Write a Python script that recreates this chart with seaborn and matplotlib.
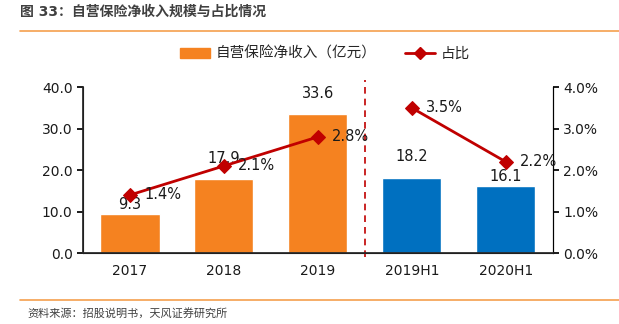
import matplotlib
matplotlib.use("Agg")
import matplotlib.pyplot as plt
import seaborn as sns
import pandas as pd
from matplotlib.lines import Line2D
from matplotlib.patches import Patch

sns.set_theme(style="white")
plt.rcParams['font.family'] = ['DejaVu Sans', 'Noto Sans CJK SC']

categories = ["2017", "2018", "2019", "2019H1", "2020H1"]
income = [9.3, 17.9, 33.6, 18.2, 16.1]
ratio = [1.4, 2.1, 2.8, 3.5, 2.2]
bar_colors = ["#F58220", "#F58220", "#F58220", "#0070C0", "#0070C0"]
line_color = "#C00000"
label_offsets = [0.5, 3.0, 3.0, 3.2, 0.6]

df = pd.DataFrame({"cat": categories, "income": income, "ratio": ratio})

fig = plt.figure(figsize=(6.19, 3.24), dpi=100)
ax = fig.add_axes([0.134, 0.219, 0.759, 0.512])
sns.barplot(data=df, x="cat", y="income", hue="cat", palette=bar_colors,
            legend=False, width=0.63, ax=ax, saturation=1)
ax.set_ylim(0, 40)
ax.set_yticks([0, 10, 20, 30, 40])
ax.set_yticklabels([f"{v:.1f}" for v in [0, 10, 20, 30, 40]])
ax.set_xlabel("")
ax.set_ylabel("")
ax.set_xlim(-0.5, 4.5)
ax.set_xticks(range(5))
ax.set_xticklabels(categories)
ax.tick_params(axis="x", length=0, labelsize=10, pad=8, labelcolor="#1a1a1a")
ax.set_xticks([0.5, 1.5, 2.5, 3.5], minor=True)
ax.tick_params(axis="x", which="minor", length=4, direction="out", color="black")
ax.tick_params(axis="y", length=4, direction="out", labelsize=10, color="black",
               left=True, labelcolor="#1a1a1a")
ax.spines["top"].set_visible(False)
for s in ["left", "bottom", "right"]:
    ax.spines[s].set_color("black")
    ax.spines[s].set_linewidth(0.8)

for i, v in enumerate(income):
    ax.text(i, v + label_offsets[i], f"{v:.1f}", ha="center", va="bottom",
            fontsize=10.5, color="#1a1a1a")

ax2 = ax.twinx()
ax2.set_ylim(0, 4)
sns.lineplot(x=[0, 1, 2], y=ratio[:3], ax=ax2, color=line_color, marker="D",
             markersize=7, linewidth=2, markeredgecolor=line_color)
sns.lineplot(x=[3, 4], y=ratio[3:], ax=ax2, color=line_color, marker="D",
             markersize=7, linewidth=2, markeredgecolor=line_color)
ax2.set_xlim(-0.5, 4.5)
ax2.set_yticks([0, 1, 2, 3, 4])
ax2.set_yticklabels([f"{v:.1f}%" for v in [0, 1, 2, 3, 4]])
ax2.tick_params(axis="y", length=4, direction="out", labelsize=10, color="black",
                right=True, labelcolor="#1a1a1a")
ax2.spines["top"].set_visible(False)
ax2.spines["right"].set_color("black")
ax2.spines["right"].set_linewidth(0.8)
ax2.set_ylabel("")
for i, v in enumerate(ratio):
    ax2.text(i + 0.15, v, f"{v:.1f}%", ha="left", va="center", fontsize=10.5, color="#1a1a1a")

# dashed separator
ax2.plot([2.5, 2.5], [-0.1, 4.17], ls=(0, (4, 3)), color="#C00000", lw=1.2, clip_on=False)

handles = [Patch(color="#F58220", label="自营保险净收入（亿元）"),
           Line2D([0], [0], color=line_color, marker="D", markersize=6, lw=2, label="占比")]
fig.legend(handles=handles, loc="center", bbox_to_anchor=(0.525, 0.835), ncol=2,
           frameon=False, fontsize=10.5, handlelength=2.1, handletextpad=0.4,
           columnspacing=1.9)

fig.text(0.032, 0.965, "图 33：自营保险净收入规模与占比情况", fontsize=10, color="#404040",
         ha="left", va="center", fontweight="bold")
fig.add_artist(Line2D([0.032, 1.0], [0.905, 0.905], color="#F5A04E", lw=1.2))
fig.add_artist(Line2D([0.032, 1.0], [0.075, 0.075], color="#F5A04E", lw=1.2))
fig.text(0.045, 0.033, "资料来源：招股说明书，天风证券研究所", fontsize=8, color="#404040",
         ha="left", va="center")

fig.savefig("out.png", dpi=100)
